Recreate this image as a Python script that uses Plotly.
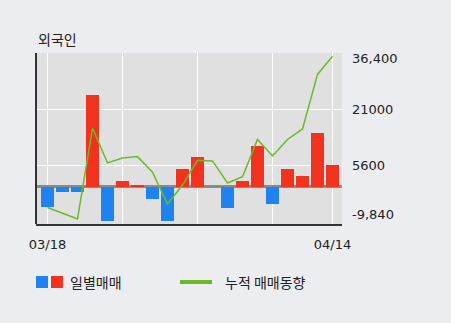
import plotly.graph_objects as go

# ---- data ----
dates = ["03/18", "03/19", "03/20", "03/23", "03/24", "03/25", "03/26", "03/27", "03/30", "03/31",
         "04/01", "04/02", "04/03", "04/06", "04/07", "04/08", "04/09", "04/10", "04/13", "04/14"]
daily = [-5720, -1400, -1400, 24975, -9500, 1570, 490, -3460, -9500, 4725,
         7965, 0, -5990, 1570, 11020, -4640, 4725, 2835, 14715, 5890]
cumulative = [-5720, -7300, -8860, 15880, 6430, 7780, 8150, 3900, -4800, 400,
              7150, 6970, 950, 2650, 12825, 8320, 12825, 15700, 30560, 35500]
y_ticks = [36400, 21000, 5600, -9840]
y_tick_text = ["36,400", "21000", "5600", "-9,840"]
x_tick_idx = [0, 5, 10, 15, 19]

title_text = "외국인"
legend_bar = "일별매매"
legend_line = "누적 매매동향"

# ---- style ----
W, H = 451, 323
L, R, T, B = 36, 342, 53, 224
PAPER = "#ecedf1"
PLOT = "#e0e0e0"
RED = "#f0321e"
BLUE = "#1e82f0"
GREEN = "#6abb2a"
TXT = "#222222"
FONT_KR = "Noto Sans CJK KR"
FONT_NUM = "DejaVu Sans"


def px_x(p):
    return (p - L) / (R - L)


def px_y(p):
    return (B - p) / (B - T)


bar_colors = [RED if v >= 0 else BLUE for v in daily]

fig = go.Figure()
fig.add_trace(go.Bar(x=dates, y=daily, marker=dict(color=bar_colors, line=dict(width=0)),
                     width=0.87, showlegend=False, hoverinfo="skip"))
fig.add_trace(go.Scatter(x=dates, y=cumulative, mode="lines",
                         line=dict(color=GREEN, width=1.5), showlegend=False, hoverinfo="skip"))

ymax = y_ticks[0]
zero_px = 186.5
scale = ymax / (zero_px - T)
ymin = -(B - zero_px) * scale

fig.update_layout(
    width=W, height=H,
    margin=dict(l=L, r=W - R, t=T, b=H - B, pad=0),
    paper_bgcolor=PAPER, plot_bgcolor=PLOT,
    font=dict(family=FONT_KR, size=14, color=TXT),
    bargap=0,
    xaxis=dict(type="category", range=[-0.767, len(dates) - 1 + 0.633],
               tickvals=[dates[i] for i in x_tick_idx],
               ticktext=[dates[i] if i in (0, len(dates) - 1) else "" for i in x_tick_idx],
               showgrid=True, gridcolor="#ffffff", gridwidth=1,
               showline=True, linecolor="#333333", linewidth=2,
               ticks="", ticklen=0, ticklabelstandoff=7,
               tickfont=dict(family=FONT_NUM, size=13, color=TXT), fixedrange=True),
    yaxis=dict(range=[ymin, ymax], tickvals=[21000, 5600, ymax], showticklabels=False,
               showgrid=True, gridcolor="#ffffff", gridwidth=1,
               zeroline=True, zerolinecolor="#8a8a8a", zerolinewidth=3,
               showline=False, fixedrange=True),
)

shapes = []
# left axis line
shapes.append(dict(type="line", xref="paper", yref="paper", x0=0, x1=0, y0=0, y1=1,
                   line=dict(color="#333333", width=2)))
# legend swatches
shapes.append(dict(type="rect", xref="paper", yref="paper", x0=px_x(36), x1=px_x(48),
                   y0=px_y(288), y1=px_y(276), fillcolor=BLUE, line=dict(width=0)))
shapes.append(dict(type="rect", xref="paper", yref="paper", x0=px_x(51), x1=px_x(63),
                   y0=px_y(288), y1=px_y(276), fillcolor=RED, line=dict(width=0)))
shapes.append(dict(type="line", xref="paper", yref="paper", x0=px_x(180), x1=px_x(212),
                   y0=px_y(282), y1=px_y(282), line=dict(color=GREEN, width=4)))
fig.update_layout(shapes=shapes)

ann = []
ann.append(dict(text=title_text, xref="paper", yref="paper", x=px_x(36), y=px_y(39),
                xanchor="left", yanchor="middle", showarrow=False,
                font=dict(family=FONT_KR, size=14, color=TXT)))
label_px = [58, 109.5, 165.5, 214]
for t, p in zip(y_tick_text, label_px):
    ann.append(dict(text=t, xref="paper", yref="paper", x=px_x(350), y=px_y(p),
                    xanchor="left", yanchor="middle", showarrow=False,
                    font=dict(family=FONT_NUM, size=13, color=TXT)))
ann.append(dict(text=legend_bar, xref="paper", yref="paper", x=px_x(68), y=px_y(282),
                xanchor="left", yanchor="middle", showarrow=False,
                font=dict(family=FONT_KR, size=14, color=TXT)))
ann.append(dict(text=legend_line, xref="paper", yref="paper", x=px_x(223), y=px_y(282),
                xanchor="left", yanchor="middle", showarrow=False,
                font=dict(family=FONT_KR, size=14, color=TXT)))
fig.update_layout(annotations=ann)

fig.write_html("out.html", config=dict(displayModeBar=False))
